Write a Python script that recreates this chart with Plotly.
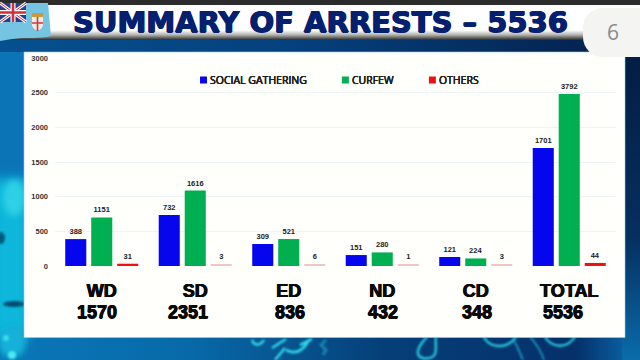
import base64
import plotly.graph_objects as go

categories = ["WD", "SD", "ED", "ND", "CD", "TOTAL"]
district_totals = ["1570", "2351", "836", "432", "348", "5536"]
total_shift = [-5, -7, 1, 1, 1, -6]

social_drawn = [388, 734, 317, 158, 130, 1701]
social_labels = ["388", "732", "309", "151", "121", "1701"]
curfew_drawn = [700, 1089, 389, 196, 109, 2481]
curfew_labels = ["1151", "1616", "521", "280", "224", "3792"]
others_drawn = [33, 15, 15, 15, 15, 44]
others_labels = ["31", "3", "6", "1", "3", "44"]
others_colors = ["#ee1111", "#f3c4c4", "#f3c4c4", "#f3c4c4", "#f3c4c4", "#ee1111"]

y_ticks = [0, 500, 1000, 1500, 2000, 2500, 3000]

L, R, T, B = 55, 24, 58, 94
PW, PH = 640 - L - R, 360 - T - B

backdrop = """<svg xmlns='http://www.w3.org/2000/svg' width='640' height='360' viewBox='0 0 640 360'>
<defs>
<linearGradient id='bg' x1='0' x2='1' y1='0' y2='0'>
<stop offset='0' stop-color='#0a78b8'/><stop offset='0.3' stop-color='#0869a8'/>
<stop offset='0.6' stop-color='#063f78'/><stop offset='0.9' stop-color='#05306a'/><stop offset='1' stop-color='#0a6fb0'/>
</linearGradient>
<linearGradient id='hb' x1='0' x2='1' y1='0' y2='0'>
<stop offset='0' stop-color='#06508f'/><stop offset='0.5' stop-color='#05407c'/><stop offset='1' stop-color='#04224f'/>
</linearGradient>
<linearGradient id='sh' x1='0' x2='0' y1='0' y2='1'>
<stop offset='0' stop-color='#ffffff'/><stop offset='0.72' stop-color='#ffffff'/><stop offset='0.85' stop-color='#b5b5b0'/><stop offset='1' stop-color='#2a2a2a'/>
</linearGradient>
<linearGradient id='rr' x1='0' x2='0' y1='0' y2='1'>
<stop offset='0' stop-color='#041d44'/><stop offset='0.6' stop-color='#05305f'/><stop offset='1' stop-color='#0a6cab'/>
</linearGradient>
<filter id='b6'><feGaussianBlur stdDeviation='6'/></filter>
<filter id='b3'><feGaussianBlur stdDeviation='3'/></filter>
<filter id='b1'><feGaussianBlur stdDeviation='0.8'/></filter>
<filter id='b05'><feGaussianBlur stdDeviation='0.5'/></filter>
</defs>
<rect width='640' height='360' fill='url(#bg)'/>
<rect x='622' y='56' width='18' height='304' fill='url(#rr)'/>
<rect y='38' width='600' height='14' fill='url(#hb)'/>
<rect x='0' y='52' width='30' height='130' fill='#0a74b6'/>
<rect x='-10' y='178' width='40' height='160' fill='#10b6da' filter='url(#b6)'/>
<g filter='url(#b3)'>
<ellipse cx='14' cy='198' rx='11' ry='18' fill='#2fd0e6'/>
<ellipse cx='12' cy='342' rx='14' ry='16' fill='#12b0d8'/>
</g>
<g filter='url(#b1)'>
<ellipse cx='1' cy='238' rx='4' ry='6' fill='#045a80'/>
<ellipse cx='14' cy='304' rx='11' ry='3' fill='#064e72'/>
<circle cx='12' cy='355' r='4' fill='#4ae8f0'/>
<circle cx='6' cy='338' r='3' fill='#3adcea'/>
<path d='M252 340c2 6 8 6 12 0M272 348l14-9M286 350c8 4 16 2 22-8M275 360l10-12M300 345l12-6' fill='none' stroke='#2fd6e6' stroke-width='2.6'/>
<path d='M427 337c-6 6-10 13-9 17 2 6 14 6 17 0 2-5 0-12 1-17' fill='none' stroke='#26c8dc' stroke-width='2.4'/>
<path d='M484 337c4 10 22 14 32 0' fill='none' stroke='#26c8dc' stroke-width='2.4'/>
<path d='M545 337c6 10 22 14 31-2' fill='none' stroke='#26c8dc' stroke-width='2.4'/>
<path d='M513 340c5 6 7 14 10 20M530 337c6 6 10 12 14 23' fill='none' stroke='#1fa9c8' stroke-width='1.6'/>
<path d='M326 340l-5 5 5 5-3 5' fill='none' stroke='#1884ae' stroke-width='3'/>
</g>
<rect x='0' y='0' width='640' height='6' fill='#2c2c2c'/>
<rect x='0' y='5' width='640' height='35' fill='url(#sh)'/>
<g filter='url(#b05)'>
<path d='M0 3H48L51 36C40 39 25 37 12 39L0 41Z' fill='#74c5e2'/>
<rect x='0' y='3' width='26' height='19' fill='#2b3f8f'/>
<path d='M0 3L26 22M26 3L0 22' stroke='#fff' stroke-width='3'/>
<path d='M0 3L26 22M26 3L0 22' stroke='#d22f3e' stroke-width='1'/>
<path d='M13 3V22M0 12.5H26' stroke='#fff' stroke-width='5'/>
<path d='M13 3V22M0 12.5H26' stroke='#d22f3e' stroke-width='2.6'/>
<path d='M32 13H43V25C43 28 39 30 37.5 31C36 30 32 28 32 25Z' fill='#f1ebe2'/>
<rect x='32' y='13' width='11' height='4' fill='#c99a3a'/>
<path d='M37.5 17V31M32 23H43' stroke='#d0394a' stroke-width='1.6'/>
</g>
<rect x='24' y='52' width='601' height='285.5' fill='#fffffc' stroke='#8fd4e8' stroke-width='0.6'/>
<rect x='583' y='8' width='80' height='49' rx='20' fill='#f4f4f2'/>
</svg>"""
bg_uri = "data:image/svg+xml;base64," + base64.b64encode(backdrop.encode()).decode()


def thick(c, d=0.5):
    return f"{d}px 0 0 {c}, -{d}px 0 0 {c}, 0 {d}px 0 {c}"


fig = go.Figure()
series = [
    ("SOCIAL GATHERING", social_drawn, social_labels, "#0505ee"),
    ("CURFEW", curfew_drawn, curfew_labels, "#00b050"),
    ("OTHERS", others_drawn, others_labels, others_colors),
]
for name, vals, labels, color in series:
    fig.add_trace(go.Bar(
        name=name, x=categories, y=vals, text=labels,
        textposition="outside", textangle=0, cliponaxis=False,
        textfont=dict(family="Liberation Sans", size=7.5, color="#222222", weight="bold"),
        marker=dict(color=color, line=dict(width=0)),
    ))

annotations = [
    dict(x=(320 - L) / PW, y=(PH + T - 22) / PH, xref="paper", yref="paper",
         text="SUMMARY OF ARRESTS – 5536", showarrow=False, xanchor="center", yanchor="middle",
         font=dict(family="DejaVu Sans", size=29, color="#04206e", weight="bold",
                   shadow=thick("#04206e", 0.7))),
    dict(x=(613 - L) / PW, y=(PH + T - 32) / PH, xref="paper", yref="paper",
         text="6", showarrow=False, xanchor="center", yanchor="middle",
         font=dict(family="Open Sans", size=21, color="#8a8a8a")),
]
for cat, tot, sh in zip(categories, district_totals, total_shift):
    annotations.append(dict(
        x=cat, y=(PH + T - 312) / PH, xref="x", yref="paper", text=tot, xshift=sh,
        showarrow=False, xanchor="center", yanchor="middle",
        font=dict(family="Liberation Sans", size=18, color="#0a0a0a", weight="bold",
                  shadow=thick("#0a0a0a", 0.5))))

fig.update_layout(
    width=640, height=360, autosize=False,
    margin=dict(l=L, r=R, t=T, b=B, autoexpand=False),
    paper_bgcolor="#0a5a98", plot_bgcolor="rgba(0,0,0,0)",
    barmode="group", bargap=0.166, bargroupgap=0.19,
    uniformtext=dict(mode=False),
    images=[dict(source=bg_uri, xref="paper", yref="paper",
                 x=-L / PW, y=(PH + T) / PH, sizex=640 / PW, sizey=360 / PH,
                 sizing="stretch", xanchor="left", yanchor="top", layer="below")],
    legend=dict(orientation="h", x=(170 - L) / PW, y=(PH + T - 80) / PH, xanchor="left", yanchor="middle",
                bgcolor="rgba(0,0,0,0)", entrywidth=0, traceorder="normal",
                font=dict(family="Open Sans", size=10.5, color="#222222", shadow=thick("#222222", 0.2))),
    annotations=annotations,
    xaxis=dict(type="category", categoryorder="array", categoryarray=categories,
               tickmode="array", tickvals=categories, ticktext=categories,
               showgrid=False, zeroline=False, showline=False, ticks="outside",
               ticklen=8, tickcolor="rgba(0,0,0,0)",
               tickfont=dict(family="Liberation Sans", size=18, color="#0a0a0a", weight="bold",
                             shadow=thick("#0a0a0a", 0.5))),
    yaxis=dict(range=[0, 3000], tickmode="array", tickvals=y_ticks,
               showgrid=True, gridcolor="#eef3f5", gridwidth=1, zeroline=False, showline=False,
               ticks="", ticklabelstandoff=6,
               tickfont=dict(family="Liberation Sans", size=7.5, color="#333333", weight="bold")),
    showlegend=True,
)
post = """
document.documentElement.style.margin='0';
document.body.style.margin='0';
var ps = document.querySelectorAll('.legend .legendpoints path');
ps.forEach(function(p){
  p.setAttribute('transform','translate(33.5,0) scale(0.58)');
});
if (ps.length > 2) { ps[2].style.fill = '#ee1111'; }
"""
fig.write_html("out.html", post_script=post, config={"displayModeBar": False})
